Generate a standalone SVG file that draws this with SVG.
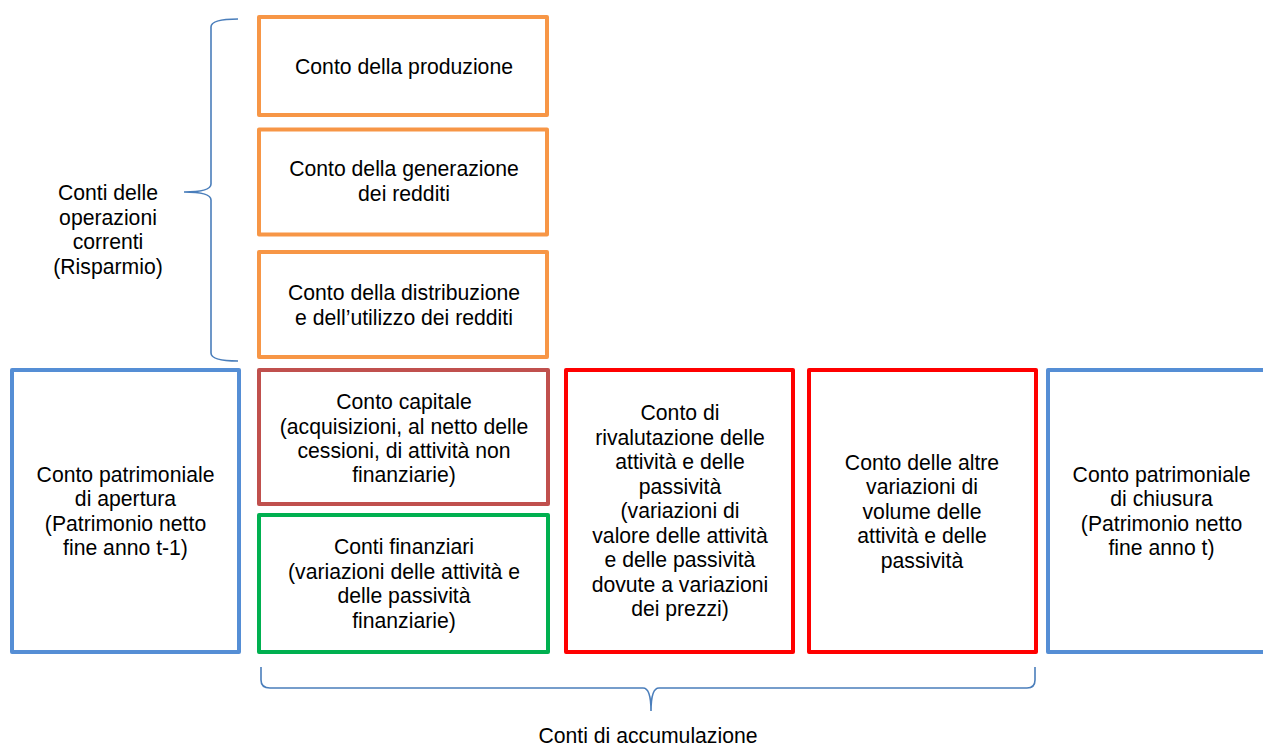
<svg xmlns="http://www.w3.org/2000/svg" width="1263" height="745" viewBox="0 0 1263 745">
<style>
.box{fill:#fff;stroke-width:4;stroke-linejoin:round}
.or{stroke:#F79646}.br{stroke:#C0504D}.gr{stroke:#00B050}.rd{stroke:#FF0000}.bl{stroke:#558ED5}
text{font-family:"Liberation Sans",Arial,sans-serif;font-size:21.2px;fill:#000;text-anchor:middle}
.brace{fill:none;stroke:#4A7EBB;stroke-width:1.6}
</style>
<rect width="1263" height="745" fill="#fff"/>
<g id="n-produzione"><rect class="box or" x="259" y="17" width="288" height="98"/>
<text x="404" y="74">Conto della produzione</text></g>
<g id="n-generazione"><rect class="box or" x="259" y="129.5" width="288" height="105"/>
<text x="404" y="176">Conto della generazione</text><text x="404" y="200.5">dei redditi</text></g>
<g id="n-distribuzione"><rect class="box or" x="259" y="252" width="288" height="105"/>
<text x="404" y="300">Conto della distribuzione</text><text x="404" y="324.5">e dell’utilizzo dei redditi</text></g>
<g id="n-capitale"><rect class="box br" x="259" y="370" width="289" height="134"/>
<text x="404" y="409">Conto capitale</text><text x="404" y="433.5">(acquisizioni, al netto delle</text><text x="404" y="457.5">cessioni, di attività non</text><text x="404" y="482">finanziarie)</text></g>
<g id="n-finanziari"><rect class="box gr" x="259" y="515" width="289" height="137"/>
<text x="404" y="554">Conti finanziari</text><text x="404" y="578.5">(variazioni delle attività e</text><text x="404" y="603">delle passività</text><text x="404" y="627.5">finanziarie)</text></g>
<g id="n-rivalutazione"><rect class="box rd" x="566" y="370" width="227" height="282"/>
<text x="680" y="420">Conto di</text><text x="680" y="444.5">rivalutazione delle</text><text x="680" y="469">attività e delle</text><text x="680" y="493.5">passività</text><text x="680" y="518">(variazioni di</text><text x="680" y="542.5">valore delle attività</text><text x="680" y="567">e delle passività</text><text x="680" y="591.5">dovute a variazioni</text><text x="680" y="616">dei prezzi)</text></g>
<g id="n-altre"><rect class="box rd" x="809" y="370" width="227" height="282"/>
<text x="922" y="469.5">Conto delle altre</text><text x="922" y="494">variazioni di</text><text x="922" y="518.5">volume delle</text><text x="922" y="543">attività e delle</text><text x="922" y="567.5">passività</text></g>
<g id="n-apertura"><rect class="box bl" x="12" y="370" width="227" height="282"/>
<text x="125.5" y="481.5">Conto patrimoniale</text><text x="125.5" y="506">di apertura</text><text x="125.5" y="530.5">(Patrimonio netto</text><text x="125.5" y="555">fine anno t-1)</text></g>
<g id="n-chiusura"><rect class="box bl" x="1048" y="370" width="230" height="282"/>
<text x="1161.5" y="481.5">Conto patrimoniale</text><text x="1161.5" y="506">di chiusura</text><text x="1161.5" y="530.5">(Patrimonio netto</text><text x="1161.5" y="555">fine anno t)</text></g>
<g id="connectors">
<path class="brace" d="M238,19 Q211,19 211,27 L211,184 Q211,192 184,192 Q211,192 211,200 L211,353 Q211,361 238,361"/>
<path class="brace" d="M261,667 L261,680 Q261,688 270,688 L643,688 Q651,688 651,711 Q651,688 659,688 L1027,688 Q1035,688 1035,680 L1035,667"/>
</g>
<g id="labels">
<text x="108" y="200">Conti delle</text><text x="108" y="224.5">operazioni</text><text x="108" y="249">correnti</text><text x="108" y="273.5">(Risparmio)</text>
<text x="648" y="743">Conti di accumulazione</text>
</g>
</svg>
